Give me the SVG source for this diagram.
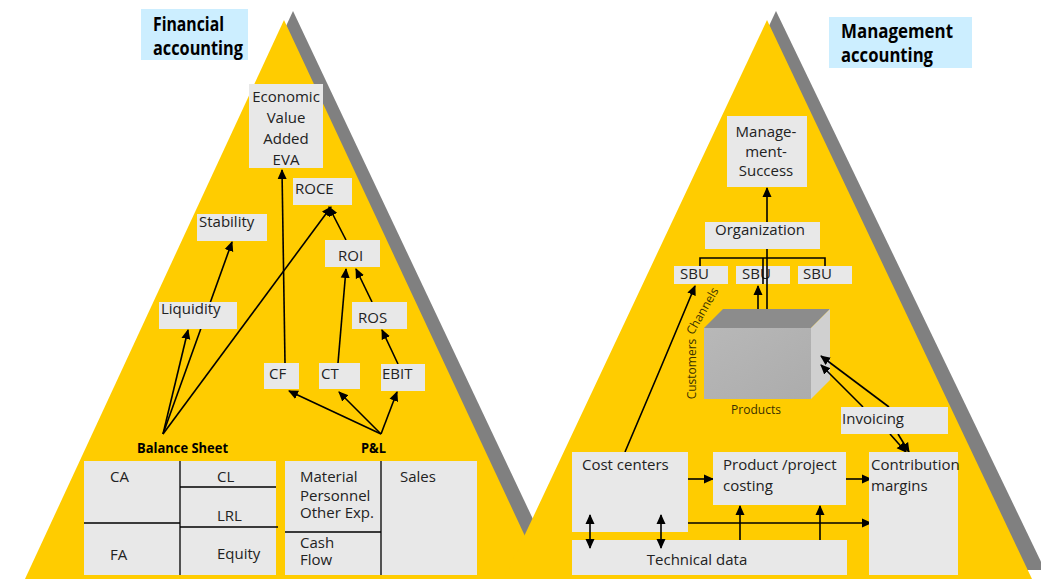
<svg xmlns="http://www.w3.org/2000/svg" width="1041" height="579" viewBox="0 0 1041 579">
<defs>
<marker id="ah" viewBox="0 0 10 10" refX="9" refY="5" markerWidth="10" markerHeight="10" markerUnits="userSpaceOnUse" orient="auto-start-reverse">
<path d="M0,0.5 L10,5 L0,9.5 z" fill="#000"/>
</marker>
<linearGradient id="front" x1="0" y1="0" x2="1" y2="1">
<stop offset="0" stop-color="#b8b8b8"/>
<stop offset="1" stop-color="#acacac"/>
</linearGradient>
</defs>
<style>
.tri{fill:#FFCC00}
.sh{fill:#808080}
.box{fill:#E8E8E8}
.title{fill:#CCEEFF}
.t{font-family:"Open Sans","Noto Sans",sans-serif;font-size:15px;fill:#222}
.tb{font-family:"Open Sans","Noto Sans",sans-serif;font-weight:bold;fill:#000}
.s{font-family:"Open Sans","Noto Sans",sans-serif;font-size:12px;fill:#3a3000}
.c line,.c path,.c polyline{stroke:#000;stroke-width:1.6;fill:none}
.a{marker-end:url(#ah)}
.d{marker-start:url(#ah);marker-end:url(#ah)}
.ln{stroke:#000;stroke-width:1.3;fill:none}
</style>
<rect width="1041" height="579" fill="#fff"/>
<g id="pyramid-financial">
<polygon class="sh" points="293,11 35,570 557,570"/>
<polygon class="tri" points="284,20 25,579 545,579"/>
</g>
<g id="pyramid-management">
<polygon class="sh" points="776,11 513,570 1045,570"/>
<polygon class="tri" points="767,20 504,579 1032,579"/>
</g>
<g id="connectors" class="c">
<line class="a" x1="163" y1="434" x2="188" y2="330"/>
<line class="a" x1="163" y1="434" x2="232" y2="242"/>
<line class="a" x1="163" y1="434" x2="331" y2="207"/>
<line class="a" x1="285" y1="363" x2="282" y2="170"/>
<line class="a" x1="338" y1="363" x2="346" y2="269"/>
<line class="a" x1="372" y1="302" x2="356" y2="269"/>
<line class="a" x1="346" y1="240" x2="329" y2="207"/>
<line class="a" x1="398" y1="364" x2="382" y2="330"/>
<line class="a" x1="381" y1="434" x2="289" y2="391"/>
<line class="a" x1="381" y1="434" x2="339" y2="392"/>
<line class="a" x1="381" y1="434" x2="397" y2="392"/>
<line class="a" x1="767" y1="222" x2="767" y2="188"/>
<path class="a" d="M625,452 Q660,370 695,286"/>
<line class="a" x1="758" y1="319" x2="758" y2="286"/>
<line class="a" x1="890" y1="434" x2="906" y2="452"/>
<line class="a" x1="898" y1="434" x2="909" y2="452"/>
<line class="a" x1="688" y1="479" x2="713" y2="479"/>
<line class="a" x1="846" y1="479" x2="871" y2="479"/>
<line class="a" x1="688" y1="523" x2="871" y2="523"/>
<line class="a" x1="740" y1="540" x2="740" y2="506"/>
<line class="a" x1="820" y1="540" x2="820" y2="506"/>
</g>
<g id="title-financial">
<rect class="title" x="141" y="9" width="107" height="51"/>
<text class="tb" x="153" y="31" font-size="19" textLength="71" lengthAdjust="spacingAndGlyphs">Financial</text>
<text class="tb" x="153" y="55" font-size="19" textLength="90" lengthAdjust="spacingAndGlyphs">accounting</text>
</g>
<g id="eva">
<rect class="box" x="249" y="84" width="74" height="84"/>
<text class="t" x="286" y="102" text-anchor="middle" font-size="16">Economic</text>
<text class="t" x="286" y="123" text-anchor="middle" font-size="16">Value</text>
<text class="t" x="286" y="144" text-anchor="middle" font-size="16">Added</text>
<text class="t" x="286" y="165" text-anchor="middle" font-size="16">EVA</text>
</g>
<g id="roce"><rect class="box" x="293" y="178" width="59" height="27"/><text class="t" x="295" y="194">ROCE</text></g>
<g id="stability"><rect class="box" x="197" y="214" width="70" height="27"/><text class="t" x="199" y="227">Stability</text></g>
<g id="roi"><rect class="box" x="325" y="240" width="55" height="27"/><text class="t" x="338" y="261">ROI</text></g>
<g id="liquidity"><rect class="box" x="159" y="302" width="78" height="27"/><text class="t" x="161" y="314">Liquidity</text></g>
<g id="ros"><rect class="box" x="352" y="302" width="55" height="27"/><text class="t" x="358" y="323">ROS</text></g>
<g id="cf"><rect class="box" x="264" y="363" width="35" height="26"/><text class="t" x="269" y="379">CF</text></g>
<g id="ct"><rect class="box" x="319" y="363" width="41" height="26"/><text class="t" x="321" y="379">CT</text></g>
<g id="ebit"><rect class="box" x="381" y="364" width="44" height="27"/><text class="t" x="382" y="379">EBIT</text></g>
<g id="balance-sheet">
<text class="tb" x="137" y="453" font-size="14" textLength="91" lengthAdjust="spacingAndGlyphs">Balance Sheet</text>
<rect class="box" x="84" y="461" width="192" height="114"/>
<line class="ln" x1="180" y1="461" x2="180" y2="575"/>
<line class="ln" x1="84" y1="523" x2="180" y2="523"/>
<line class="ln" x1="180" y1="487" x2="276" y2="487"/>
<line class="ln" x1="180" y1="527" x2="278" y2="527"/>
<text class="t" x="110" y="482">CA</text>
<text class="t" x="110" y="560">FA</text>
<text class="t" x="217" y="482">CL</text>
<text class="t" x="217" y="521">LRL</text>
<text class="t" x="217" y="559">Equity</text>
</g>
<g id="pl">
<text class="tb" x="361" y="453" font-size="14" textLength="25" lengthAdjust="spacingAndGlyphs">P&amp;L</text>
<rect class="box" x="285" y="461" width="192" height="114"/>
<line class="ln" x1="381" y1="461" x2="381" y2="575"/>
<line class="ln" x1="285" y1="532" x2="381" y2="532"/>
<text class="t" x="300" y="482">Material</text>
<text class="t" x="300" y="501" font-size="14">Personnel</text>
<text class="t" x="300" y="518" font-size="14">Other Exp.</text>
<text class="t" x="300" y="548" font-size="14">Cash</text>
<text class="t" x="300" y="565" font-size="14">Flow</text>
<text class="t" x="400" y="482">Sales</text>
</g>
<g id="title-management">
<rect class="title" x="829" y="17" width="143" height="51"/>
<text class="tb" x="841" y="38" font-size="19" textLength="112" lengthAdjust="spacingAndGlyphs">Management</text>
<text class="tb" x="841" y="62" font-size="19" textLength="92" lengthAdjust="spacingAndGlyphs">accounting</text>
</g>
<g id="management-success">
<rect class="box" x="727" y="116" width="80" height="71"/>
<text class="t" x="766" y="137" text-anchor="middle">Manage-</text>
<text class="t" x="766" y="157" text-anchor="middle">ment-</text>
<text class="t" x="766" y="176" text-anchor="middle">Success</text>
</g>
<g id="organization"><rect class="box" x="705" y="222" width="115" height="27"/><text class="t" x="715" y="235">Organization</text></g>
<g id="sbu1"><rect class="box" x="674" y="266" width="54" height="18"/><text class="t" x="680" y="279">SBU</text></g>
<g id="sbu2"><rect class="box" x="736" y="266" width="54" height="18"/><text class="t" x="742" y="279">SBU</text></g>
<g id="sbu3"><rect class="box" x="798" y="266" width="54" height="18"/><text class="t" x="803" y="279">SBU</text></g>
<g id="org-bracket" class="c">
<polyline points="700,266 700,258 825,258 825,266"/>
<line x1="763" y1="258" x2="763" y2="284"/>
<line x1="767" y1="249" x2="767" y2="319"/>
</g>
<g id="cube">
<polygon points="704,328 723,309 830,309 811,328" fill="#8c8c8c"/>
<polygon points="811,328 830,309 830,380 811,399" fill="#d0d0d0"/>
<rect x="704" y="328" width="107" height="71" fill="url(#front)"/>
<text class="s" transform="translate(706,313) rotate(-60)" text-anchor="middle">Channels</text>
<text class="s" transform="translate(696,369) rotate(-90)" text-anchor="middle">Customers</text>
<text class="s" x="756" y="414" text-anchor="middle">Products</text>
</g>
<g id="connectors-cube" class="c">
<line class="a" x1="889" y1="407" x2="821" y2="356"/>
<line class="a" x1="863" y1="407" x2="821" y2="365"/>
</g>
<g id="invoicing"><rect class="box" x="841" y="407" width="107" height="27"/><text class="t" x="842" y="424">Invoicing</text></g>
<g id="cost-centers"><rect class="box" x="572" y="452" width="116" height="80"/><text class="t" x="582" y="470">Cost centers</text></g>
<g id="product-costing"><rect class="box" x="713" y="452" width="133" height="53"/><text class="t" x="723" y="470">Product /project</text><text class="t" x="723" y="491">costing</text></g>
<g id="contribution-margins"><rect class="box" x="869" y="452" width="89" height="123"/><text class="t" x="871" y="470">Contribution</text><text class="t" x="871" y="491">margins</text></g>
<g id="technical-data"><rect class="box" x="572" y="540" width="275" height="35"/><text class="t" x="697" y="565" text-anchor="middle">Technical data</text></g>
<g id="connectors-over" class="c">
<line class="d" x1="590" y1="515" x2="590" y2="548"/>
<line class="d" x1="661" y1="515" x2="661" y2="548"/>
</g>
</svg>
